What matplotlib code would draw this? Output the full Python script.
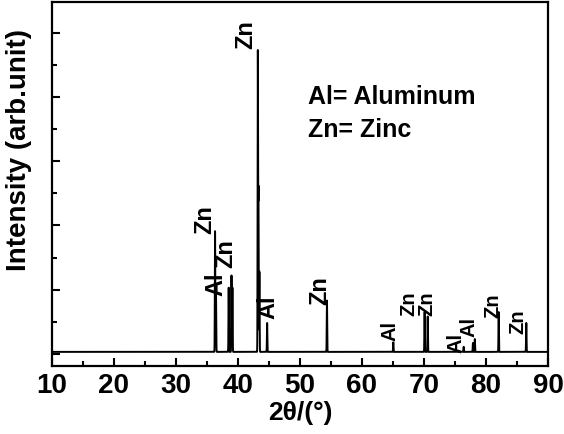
import numpy as np
import matplotlib
matplotlib.use("Agg")
import matplotlib.pyplot as plt
from matplotlib.ticker import MultipleLocator

# peak list (2theta in degrees, intensity in arb. units)
peak_pos = [36.30, 36.45, 38.50, 38.95, 39.10, 43.20, 43.30, 43.45, 44.70,
            54.35, 65.05, 70.10, 70.60, 76.40, 77.90, 78.20, 82.05, 86.50]
peak_int = [1.88, 0.92, 1.00, 1.19, 1.00, 4.66, 2.50, 1.25, 0.45,
            0.80, 0.15, 0.62, 0.55, 0.08, 0.14, 0.20, 0.62, 0.45]
background = 0.03

# phase labels: text, 2theta, height of label foot
label_text = ['Zn', 'Al', 'Zn', 'Zn', 'Al', 'Zn', 'Al', 'Zn', 'Zn', 'Al', 'Al', 'Zn', 'Zn']
label_pos = [34.6, 36.5, 38.1, 41.3, 44.8, 53.2, 64.5, 67.5, 70.5, 75.1, 77.2, 81.1, 85.2]
label_y = [1.88, 0.92, 1.36, 4.77, 0.56, 0.77, 0.22, 0.61, 0.61, 0.03, 0.27, 0.58, 0.33]

legend_lines = ['Al= Aluminum', 'Zn= Zinc']

plt.rcParams['font.family'] = ['Liberation Sans', 'DejaVu Sans']
plt.rcParams['font.weight'] = 'bold'

two_theta = np.linspace(10, 90, 32001)
intensity = np.full_like(two_theta, background)
for p, h in zip(peak_pos, peak_int):
  intensity += h * np.exp(-0.5 * ((two_theta - p) / 0.035) ** 2)

fig = plt.figure(figsize=(5.64, 4.35), dpi=100)
ax = fig.add_axes([0.0922, 0.1563, 0.8794, 0.8368])

ax.plot(two_theta, intensity, color='black', lw=1.4)

for t, x, y in zip(label_text, label_pos, label_y):
  fs = 17 if x < 60 else 14.5
  ax.text(x, y, t, rotation=90, ha='center', va='bottom',
          fontsize=fs, fontweight='bold')

for i, line in enumerate(legend_lines):
  ax.text(0.516, 0.775 - i * 0.09, line, transform=ax.transAxes,
          ha='left', va='top', fontsize=18, fontweight='bold')

ax.set_xlim(10, 90)
ax.set_ylim(-0.19, 5.48)
ax.xaxis.set_major_locator(MultipleLocator(10))
ax.xaxis.set_minor_locator(MultipleLocator(5))
ax.yaxis.set_major_locator(MultipleLocator(1))
ax.yaxis.set_minor_locator(MultipleLocator(0.5))
ax.tick_params(which='both', direction='in', width=1.5)
ax.tick_params(which='major', length=6)
ax.tick_params(which='minor', length=3.5)
ax.tick_params(axis='x', labelsize=20, pad=4)
ax.tick_params(axis='y', labelleft=False)
for lab in ax.get_xticklabels():
  lab.set_fontweight('bold')
for s in ax.spines.values():
  s.set_linewidth(1.6)

ax.set_xlabel('2θ/(°)', fontsize=19, fontweight='bold', labelpad=2)
ax.set_ylabel('Intensity (arb.unit)', fontsize=20, fontweight='bold')
ax.yaxis.set_label_coords(-0.04, 0.595)

fig.savefig('out.png', dpi=100)
